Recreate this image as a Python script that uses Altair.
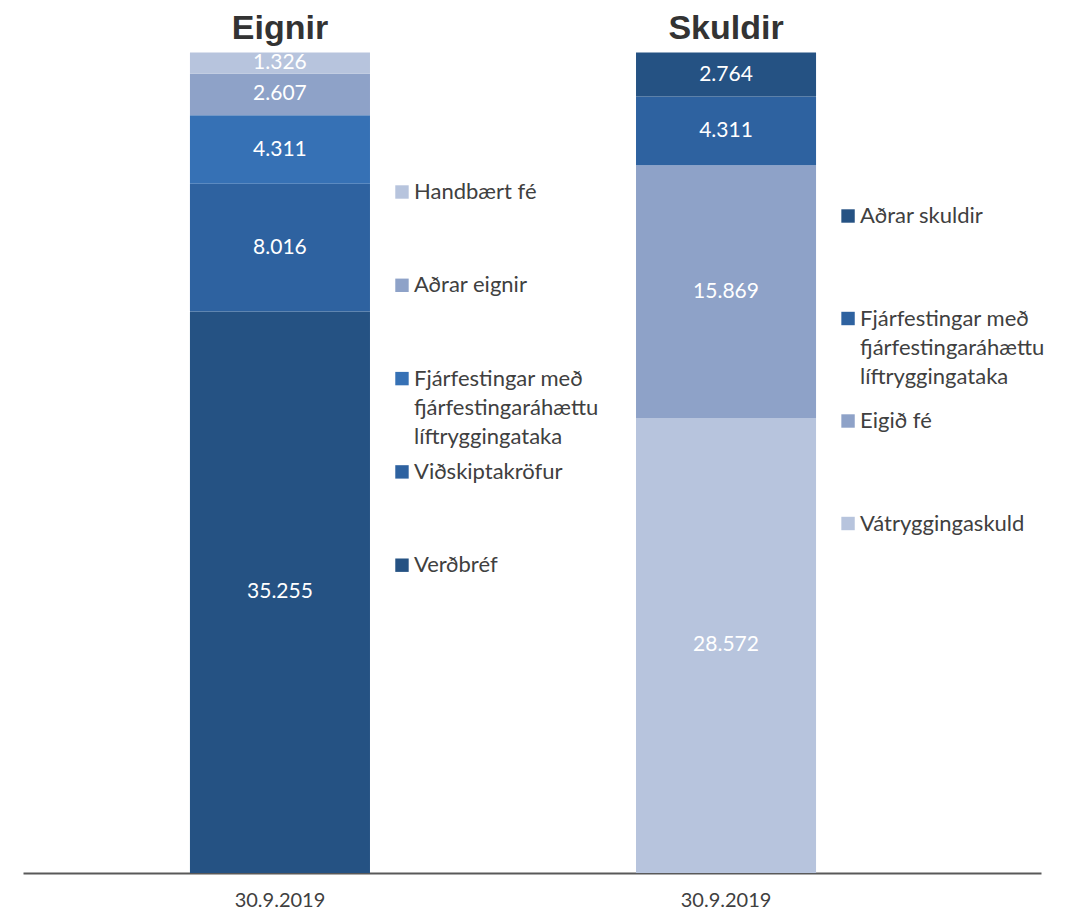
import altair as alt
import pandas as pd

# ---- data ----
sides = ["Eignir", "Skuldir"]
date_label = "30.9.2019"

eignir_labels = [
    "Verðbréf",
    "Viðskiptakröfur",
    "Fjárfestingar með\nfjárfestingaráhættu\nlíftryggingataka",
    "Aðrar eignir",
    "Handbært fé",
]
eignir_values = [35255, 8016, 4311, 2607, 1326]
eignir_colors = ["#255283", "#2E62A0", "#3671B5", "#8EA2C8", "#B7C4DD"]

skuldir_labels = [
    "Vátryggingaskuld",
    "Eigið fé",
    "Fjárfestingar með\nfjárfestingaráhættu\nlíftryggingataka",
    "Aðrar skuldir",
]
skuldir_values = [28572, 15869, 4311, 2764]
skuldir_colors = ["#B7C4DD", "#8EA2C8", "#2E62A0", "#255283"]

# ---- build table ----
rows = []
keys, colors = [], []
for side, labels, values, cols in [
    ("Eignir", eignir_labels, eignir_values, eignir_colors),
    ("Skuldir", skuldir_labels, skuldir_values, skuldir_colors),
]:
    n = len(labels)
    for i, (lab, val, col) in enumerate(zip(labels, values, cols)):
        key = f"{side}|{i}"
        rows.append({"side": side, "cat": lab, "key": key, "value": val,
                     "idx": i, "leg": n - 1 - i})
        keys.append(key)
        colors.append(col)
df = pd.DataFrame(rows)
titles = pd.DataFrame({"side": sides})

FONT = "Lato"
W, H = 1018, 860

xscale = alt.Scale(domain=sides, paddingInner=0.5964, paddingOuter=0.4393, align=0.426)
xaxis = alt.Axis(title=None, labelExpr=f"'{date_label}'", ticks=False, domain=True,
                 domainColor="#595959", domainWidth=2, labelFontSize=20, labelAngle=0,
                 labelColor="#404040", labelFont=FONT, labelPadding=17, grid=False,
                 labelBaseline="top")
xenc = alt.X("side:N", scale=xscale, axis=xaxis)
yscale = alt.Scale(domain=[0, 54000], nice=False, zero=True)
color = alt.Color("key:N", scale=alt.Scale(domain=keys, range=colors), legend=None)

base = alt.Chart(df).transform_stack(
    stack="value", as_=["y0", "y1"], groupby=["side"],
    sort=[alt.SortField("idx", order="ascending")]
).transform_calculate(
    mid="(datum.y0 + datum.y1) / 2",
    lbl="replace(format(datum.value, ','), ',', '.')",
)

bars = base.mark_bar(stroke=None).encode(
    x=xenc,
    y=alt.Y("y0:Q", scale=yscale, axis=None),
    y2="y1:Q",
    color=color,
)

vals = base.mark_text(color="white", font=FONT, fontSize=21, baseline="middle").encode(
    x=xenc,
    y=alt.Y("mid:Q", scale=yscale, axis=None),
    text="lbl:N",
)

title_marks = alt.Chart(titles).mark_text(
    font="Liberation Sans", fontSize=34, fontWeight="bold", color="#333333",
    baseline="alphabetic"
).encode(x=xenc, y=alt.value(26), text="side:N")

legend_base = alt.Chart(df).transform_calculate(
    ly="datum.side == 'Eignir' ? 179 + datum.leg * 93.3 : 203 + datum.leg * 102.5"
)
leg_sq = legend_base.mark_square(size=180, opacity=1, xOffset=32).encode(
    x=alt.X("side:N", scale=xscale, axis=xaxis, bandPosition=1),
    y=alt.Y("ly:Q", scale=None, axis=None),
    color=color,
)
leg_txt = legend_base.mark_text(
    align="left", baseline="alphabetic", dy=7, xOffset=44, font=FONT, fontSize=22,
    color="#404040", lineBreak="\n", lineHeight=29
).encode(
    x=alt.X("side:N", scale=xscale, axis=xaxis, bandPosition=1),
    y=alt.Y("ly:Q", scale=None, axis=None),
    text="cat:N",
)

chart = alt.layer(bars, vals, title_marks, leg_sq, leg_txt).resolve_scale(
    y="independent"
).properties(
    width=W, height=H,
    padding={"left": 15, "top": 5, "right": 20, "bottom": 43},
    autosize=alt.AutoSizeParams(type="none"),
    background="white",
).configure_view(stroke=None)

chart.save("out.html", embed_options={"renderer": "svg", "actions": False})
